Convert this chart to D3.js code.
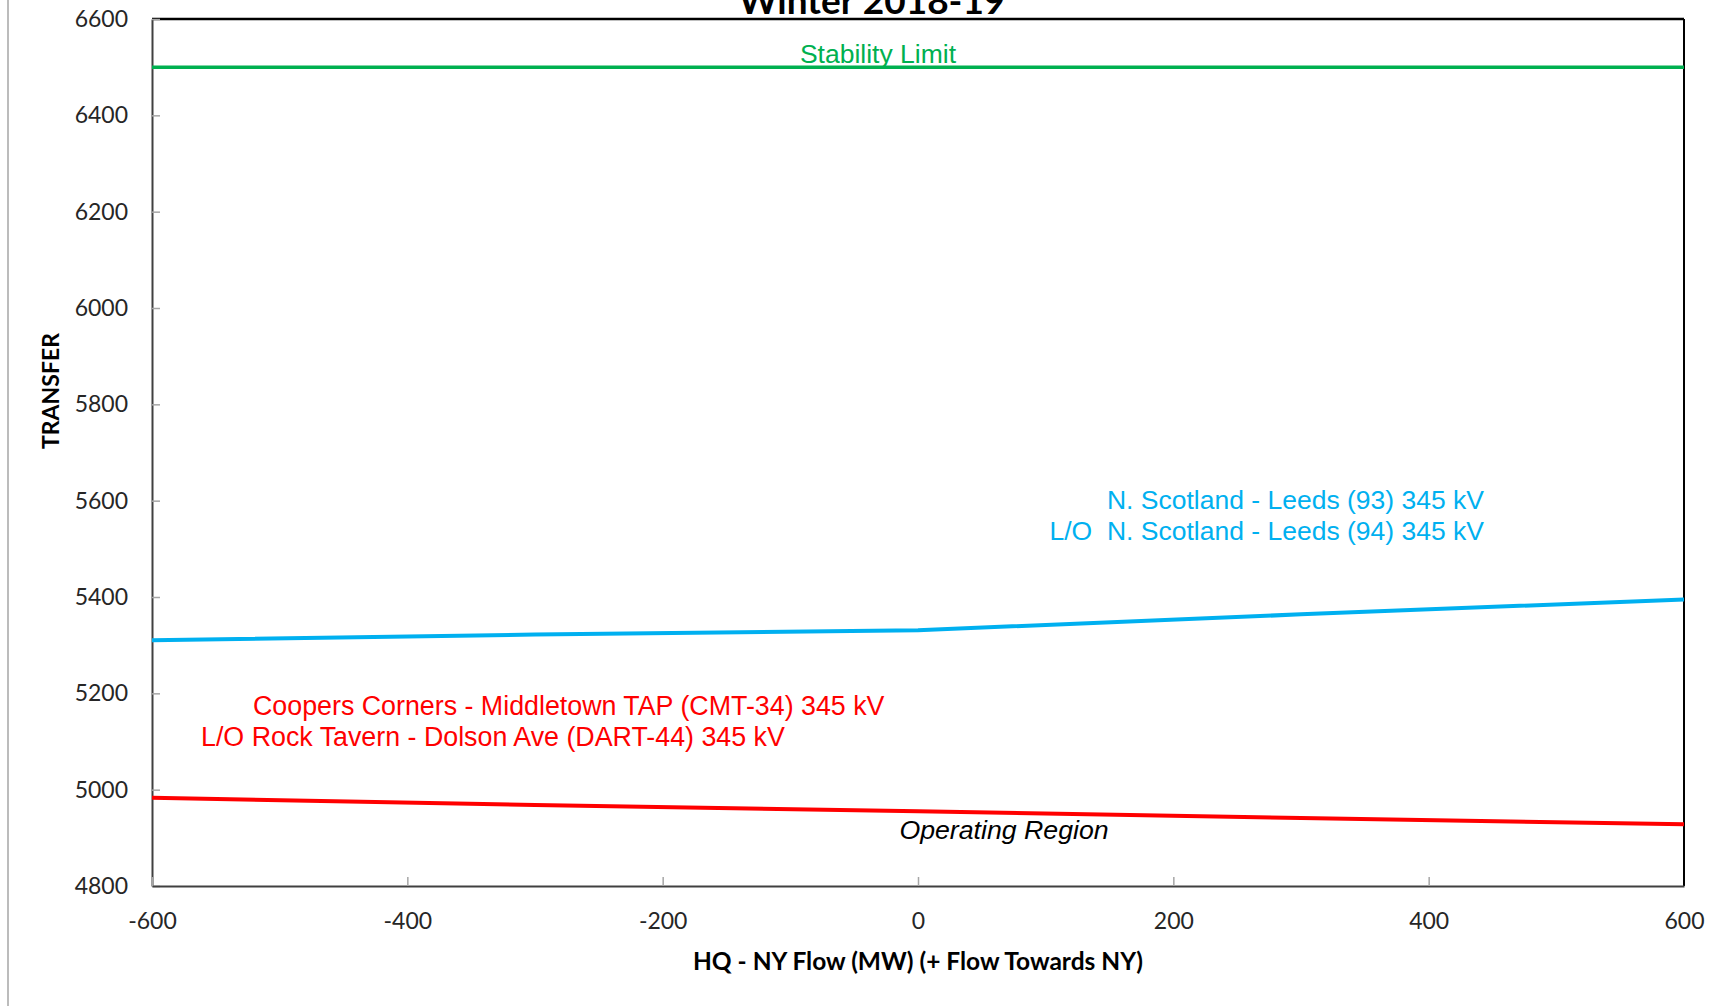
<!DOCTYPE html>
<html><head><meta charset="utf-8">
<script src="https://cdn.jsdelivr.net/npm/d3@7"></script>
<style>
body{margin:0;background:#fff;}
svg{display:block;}
.pre{white-space:pre;}
</style>
</head><body>
<svg id="chart" width="1730" height="1006"></svg>
<script>
// ---- data ----
const flowValues = [-600, -300, 0, 300, 600];
const scotlandLimit = [5310, 5322, 5331, 5364, 5395];   // blue
const coopersLimit = [4983, 4968, 4955, 4941, 4928];    // red
const stabilityFlow = [-600, 600];
const stabilityLimit = [6500, 6500];                    // green
const xTicks = [-600, -400, -200, 0, 200, 400, 600];
const yTicks = [4800, 5000, 5200, 5400, 5600, 5800, 6000, 6200, 6400, 6600];
const titleText = "Winter 2018-19";
const xTitle = "HQ - NY Flow (MW) (+ Flow Towards NY)";
const yTitle = "TRANSFER";
const blueLabels = ["N. Scotland - Leeds (93) 345 kV", "L/O  N. Scotland - Leeds (94) 345 kV"];
const redLabels = ["Coopers Corners - Middletown TAP (CMT-34) 345 kV", "L/O Rock Tavern - Dolson Ave (DART-44) 345 kV"];
const stabilityLabel = "Stability Limit";
const regionLabel = "Operating Region";

// ---- layout ----
const svg = d3.select("#chart");
svg.append("rect").attr("width", 1730).attr("height", 1006).attr("fill", "#fff");

const x = d3.scaleLinear().domain([-600, 600]).range([152, 1684]);
const y = d3.scaleLinear().domain([4800, 6600]).range([886, 19]);

// outer chart-area border on the left
svg.append("line").attr("x1", 8).attr("x2", 8).attr("y1", 0).attr("y2", 1006)
  .attr("stroke", "#a6a6a6").attr("stroke-width", 1.5);

const tickFont = "Lato, 'Open Sans', sans-serif";
const annFont = "'Liberation Sans', Arial, sans-serif";
const plainFmt = d => String(d);

// frame: top and right
svg.append("line").attr("x1", x(-600)).attr("x2", x(600)).attr("y1", y(6600)).attr("y2", y(6600))
  .attr("stroke", "#000").attr("stroke-width", 2.5);
svg.append("line").attr("x1", x(600)).attr("x2", x(600)).attr("y1", y(6600)).attr("y2", y(4800))
  .attr("stroke", "#000").attr("stroke-width", 2);

// axes
const yAxis = d3.axisLeft(y).tickValues(yTicks).tickSizeInner(-8).tickSizeOuter(0).tickPadding(24)
  .tickFormat(plainFmt);
const gy = svg.append("g").attr("transform", `translate(${x(-600)},0)`).call(yAxis);
gy.select(".domain").attr("stroke", "#404040").attr("stroke-width", 2);
gy.selectAll(".tick line").attr("stroke", "#a6a6a6").attr("stroke-width", 1.5);
gy.selectAll(".tick text").attr("font-family", tickFont).attr("font-size", 23).attr("fill", "#262626");

const xAxis = d3.axisBottom(x).tickValues(xTicks).tickSizeInner(-9).tickSizeOuter(0)
  .tickFormat(plainFmt);
const gx = svg.append("g").attr("transform", `translate(0,${y(4800)})`).call(xAxis);
gx.select(".domain").attr("stroke", "#404040").attr("stroke-width", 2);
gx.selectAll(".tick line").attr("stroke", "#a6a6a6").attr("stroke-width", 1.5);
gx.selectAll(".tick text").attr("font-family", tickFont).attr("font-size", 23).attr("fill", "#262626")
  .attr("y", 35).attr("dy", "0.35em");
gx.selectAll(".tick").filter(d => d === 600).select("line").remove();

// lines
const line = d3.line().x(d => x(d[0])).y(d => y(d[1]));
svg.append("path").datum(d3.zip(stabilityFlow, stabilityLimit)).attr("d", line)
  .attr("fill", "none").attr("stroke", "#00B050").attr("stroke-width", 3.5);
svg.append("path").datum(d3.zip(flowValues, scotlandLimit)).attr("d", line)
  .attr("fill", "none").attr("stroke", "#00B0F0").attr("stroke-width", 4);
svg.append("path").datum(d3.zip(flowValues, coopersLimit)).attr("d", line)
  .attr("fill", "none").attr("stroke", "#FF0000").attr("stroke-width", 4);

// annotations
svg.append("text").attr("x", 878).attr("y", 63).attr("text-anchor", "middle")
  .attr("font-family", annFont).attr("font-size", 26.5).attr("fill", "#00B050").text(stabilityLabel);

svg.selectAll(".blueLab").data(blueLabels).enter().append("text")
  .attr("class", "pre").attr("x", 1484).attr("y", (d, i) => 509 + i * 30.5)
  .attr("text-anchor", "end").attr("font-family", annFont).attr("font-size", 26.5)
  .attr("fill", "#00B0F0").text(d => d);

const redX = [253, 201];
svg.selectAll(".redLab").data(redLabels).enter().append("text")
  .attr("class", "pre").attr("x", (d, i) => redX[i]).attr("y", (d, i) => 715 + i * 30.5)
  .attr("font-family", annFont).attr("font-size", 26.8)
  .attr("fill", "#FF0000").text(d => d);

svg.append("text").attr("x", 1004).attr("y", 839).attr("text-anchor", "middle")
  .attr("font-family", annFont).attr("font-size", 26.7).attr("font-style", "italic")
  .attr("fill", "#000").text(regionLabel);

// titles
svg.append("text").attr("x", 872).attr("y", 13.5).attr("text-anchor", "middle")
  .attr("font-family", tickFont).attr("font-weight", 700).attr("font-size", 37)
  .attr("fill", "#000").text(titleText);

svg.append("text").attr("x", 918).attr("y", 961).attr("dy", "0.35em").attr("text-anchor", "middle")
  .attr("font-family", tickFont).attr("font-weight", 700).attr("font-size", 24.5)
  .attr("fill", "#000").text(xTitle);

svg.append("text").attr("transform", "translate(50.5,391) rotate(-90)").attr("dy", "0.35em")
  .attr("text-anchor", "middle")
  .attr("font-family", tickFont).attr("font-weight", 700).attr("font-size", 23)
  .attr("fill", "#000").text(yTitle);
</script>
</body></html>
